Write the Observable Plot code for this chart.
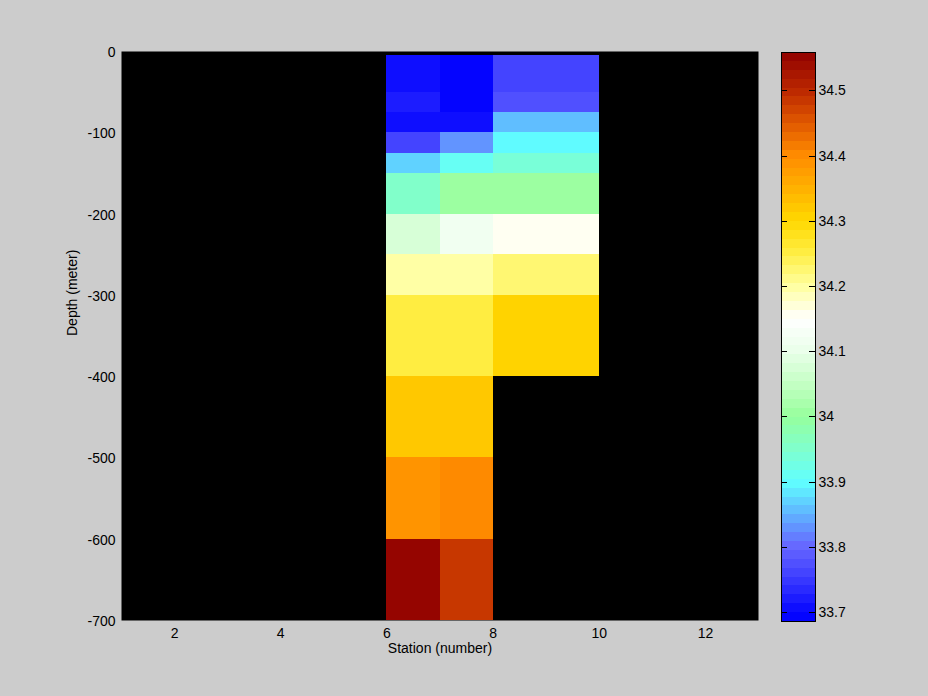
<!DOCTYPE html>
<html>
<head>
<meta charset="utf-8">
<script src="https://cdn.jsdelivr.net/npm/d3@7"></script>
<script src="https://cdn.jsdelivr.net/npm/@observablehq/plot@0.6"></script>
<style>
  html, body { margin: 0; padding: 0; background: #cccccc; }
  #wrap { position: relative; width: 928px; height: 696px; background: #cccccc; }
  #wrap svg { position: absolute; top: 0; }
</style>
</head>
<body>
<div id="wrap"></div>
<script>
// ---- data ----
const stationEdges = [6, 7, 8, 10];
const depthEdges = [-5, -50, -75, -100, -125, -150, -200, -250, -300, -400, -500, -600, -700];
// salinity per cell, top to bottom, for each station column
const salinityCol6 = [33.705, 33.716, 33.705, 33.765, 33.875, 33.95, 34.07, 34.20, 34.25, 34.325, 34.39, 34.555];
const salinityCol7 = [33.69, 33.69, 33.705, 33.83, 33.915, 34.01, 34.12, 34.20, 34.25, 34.325, 34.405, 34.49];
const salinityCol8 = [33.765, 33.78, 33.86, 33.895, 33.935, 34.01, 34.16, 34.225, 34.305, null, null, null];
const xTicks = [2, 4, 6, 8, 10, 12];
const yTicks = [-700, -600, -500, -400, -300, -200, -100, 0];
const cbTicks = [33.7, 33.8, 33.9, 34.0, 34.1, 34.2, 34.3, 34.4, 34.5];
const cmin = 33.686, cmax = 34.559;
const nLevels = 64;

// ---- colormap (blue - cyan - green - white - yellow - orange - dark red) ----
const stops = [
  [33.686, "#0000ff"], [33.70, "#0808ff"], [33.75, "#3a3aff"], [33.80, "#6666ff"],
  [33.85, "#60b4ff"], [33.90, "#60ffff"], [33.95, "#80ffcc"], [34.00, "#96ff9c"],
  [34.05, "#c4ffc4"], [34.10, "#eaffea"], [34.15, "#ffffff"], [34.20, "#ffffa0"],
  [34.25, "#ffee44"], [34.30, "#ffd800"], [34.35, "#ffb000"], [34.40, "#ff8c00"],
  [34.45, "#e05800"], [34.50, "#bb2800"], [34.559, "#900000"]
];
function colorAt(v) {
  if (v <= stops[0][0]) return stops[0][1];
  for (let i = 1; i < stops.length; i++) {
    if (v <= stops[i][0]) {
      const f = (v - stops[i - 1][0]) / (stops[i][0] - stops[i - 1][0]);
      return d3.interpolateRgb(stops[i - 1][1], stops[i][1])(f);
    }
  }
  return stops[stops.length - 1][1];
}
function cmap(t) {
  const level = Math.max(0, Math.min(nLevels - 1, Math.floor(t * nLevels)));
  const tc = (level + 0.5) / nLevels;
  return colorAt(cmin + tc * (cmax - cmin));
}
const colorScale = {type: "linear", domain: [cmin, cmax], interpolate: () => cmap, clamp: true};

// ---- cells ----
const cols = [salinityCol6, salinityCol7, salinityCol8];
const cells = [];
cols.forEach((col, j) => {
  col.forEach((v, i) => {
    if (v != null) cells.push({x1: stationEdges[j], x2: stationEdges[j + 1], y1: depthEdges[i], y2: depthEdges[i + 1], value: v});
  });
});

const font = "'Liberation Sans', Arial, Helvetica, sans-serif";

const main = Plot.plot({
  width: 928, height: 696,
  marginLeft: 121, marginRight: 170, marginTop: 51, marginBottom: 76,
  style: {background: "#cccccc", fontFamily: font, fontSize: "14px", color: "black"},
  x: {domain: [1, 13], label: null},
  y: {domain: [-700, 0], label: null},
  color: colorScale,
  marks: [
    Plot.frame({fill: "black"}),
    Plot.rect(cells, {x1: "x1", x2: "x2", y1: "y1", y2: "y2", fill: "value", shapeRendering: "crispEdges"}),
    Plot.axisX({ticks: xTicks, tickSize: 0, tickPadding: 8, label: null, tickFormat: d => String(d), fontSize: 14}),
    Plot.axisY({ticks: yTicks, tickSize: 0, tickPadding: 6, label: null, tickFormat: d => String(d), fontSize: 14, dy: 1}),
    Plot.text(["Station (number)"], {text: d => d, frameAnchor: "bottom", dy: 32, fontSize: 14}),
    Plot.text(["Depth (meter)"], {text: d => d, frameAnchor: "left", dx: -49, rotate: -90, fontSize: 14})
  ]
});
main.style.left = "0px";

// ---- colorbar ----
const step = (cmax - cmin) / nLevels;
const bands = d3.range(nLevels).map(i => ({y1: cmin + i * step, y2: cmin + (i + 1) * step, value: cmin + (i + 0.5) * step}));

const cb = Plot.plot({
  width: 100, height: 696,
  marginLeft: 10, marginRight: 56, marginTop: 52, marginBottom: 75,
  style: {background: "transparent", fontFamily: font, fontSize: "14px", color: "black", overflow: "visible"},
  x: {domain: [0, 1], axis: null},
  y: {domain: [cmin, cmax], label: null},
  color: colorScale,
  marks: [
    Plot.rect(bands, {x1: 0, x2: 1, y1: "y1", y2: "y2", fill: "value", shapeRendering: "crispEdges"}),
    Plot.ruleY(cbTicks, {x1: 0, x2: 0.17, stroke: "black", shapeRendering: "crispEdges"}),
    Plot.ruleY(cbTicks, {x1: 0.83, x2: 1, stroke: "black", shapeRendering: "crispEdges"}),
    Plot.frame({stroke: "black", shapeRendering: "crispEdges"}),
    Plot.axisY({anchor: "right", ticks: cbTicks, tickSize: 0, tickPadding: 3, label: null, tickFormat: d => String(+d.toFixed(1)), fontSize: 14})
  ]
});
cb.style.left = "771px";

const wrap = document.getElementById("wrap");
wrap.appendChild(main);
wrap.appendChild(cb);
</script>
</body>
</html>
